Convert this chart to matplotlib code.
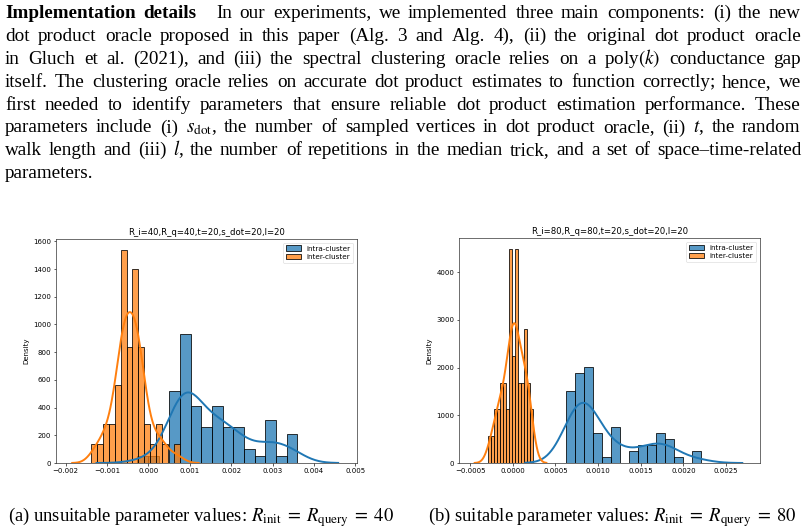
import numpy as np
import matplotlib
matplotlib.use("Agg")
import matplotlib.pyplot as plt
import seaborn as sns
from matplotlib.patches import Patch
from matplotlib.colors import to_rgba

plt.rcParams["mathtext.fontset"] = "stix"

# ---------------- data ----------------
# panel (a): R_i = R_q = 40
a_title = "R_i=40,R_q=40,t=20,s_dot=20,l=20"
a_intra_start = -0.000266
a_intra_width = 0.0002577
a_intra_counts = [1, 1, 0, 10, 18, 8, 5, 8, 5, 5, 2, 1, 6, 1, 4]
a_inter_start = -0.001384
a_inter_width = 0.0001429
a_inter_counts = [1, 1, 2, 2, 4, 11, 6, 10, 6, 2, 1, 2, 1, 0, 1]
a_xticks = [-0.002, -0.001, 0.000, 0.001, 0.002, 0.003, 0.004, 0.005]
a_yticks = [0, 200, 400, 600, 800, 1000, 1200, 1400, 1600]

# panel (b): R_i = R_q = 80
b_title = "R_i=80,R_q=80,t=20,s_dot=20,l=20"
b_intra_start = 0.000628
b_intra_width = 0.0001055
b_intra_counts = [12, 15, 16, 5, 1, 6, 0, 2, 3, 3, 5, 4, 1, 0, 2]
b_inter_start = -0.000293
b_inter_width = 0.0000356
b_inter_counts = [1, 1, 2, 2, 3, 3, 2, 8, 4, 8, 3, 3, 5, 3, 2]
b_xticks = [-0.0005, 0.0, 0.0005, 0.0010, 0.0015, 0.0020, 0.0025]
b_yticks = [0, 1000, 2000, 3000, 4000]

series_labels = ["intra-cluster", "inter-cluster"]
series_colors = ["#1f77b4", "#ff7f0e"]

body_lines = [
    "Implementation details In our experiments, we implemented three main components: (i) the new",
    "dot product oracle proposed in this paper (Alg. 3 and Alg. 4), (ii) the original dot product oracle",
    r"in Gluch et al. (2021), and (iii) the spectral clustering oracle relies on a poly$(k)$ conductance gap",
    "itself. The clustering oracle relies on accurate dot product estimates to function correctly; hence, we",
    "first needed to identify parameters that ensure reliable dot product estimation performance. These",
    r"parameters include (i) $s_{\mathrm{dot}}$, the number of sampled vertices in dot product oracle, (ii) $t$, the random",
    r"walk length and (iii) $l$, the number of repetitions in the median trick, and a set of space–time-related",
    "parameters.",
]
caption_a = r"(a) unsuitable parameter values: $R_{\mathrm{init}}\;=\;R_{\mathrm{query}}\;=\;40$"
caption_b = r"(b) suitable parameter values: $R_{\mathrm{init}}\;=\;R_{\mathrm{query}}\;=\;80$"

# ---------------- figure ----------------
W, H = 806, 532
fig = plt.figure(figsize=(W / 100, H / 100), dpi=100)
fig.patch.set_facecolor("white")
renderer = fig.canvas.get_renderer()

SERIF = "Liberation Serif"
BODY_FS = 13.8
CAP_FS = 13.4


def place_line(text, y_base, x0, x1, fs, justify, bold_n=0, extra_after=None, extra=0.0):
    tokens = text.split(" ")
    objs = []
    for i, tok in enumerate(tokens):
        t = fig.text(0, 1 - y_base / H, tok, fontsize=fs, family=SERIF,
                     weight="bold" if i < bold_n else "normal",
                     ha="left", va="baseline")
        objs.append(t)
    widths = [t.get_window_extent(renderer).width for t in objs]
    n = len(objs)
    if justify and n > 1:
        gap = ((x1 - x0) - sum(widths) - extra) / (n - 1)
    else:
        gap = fs * 100 / 72 * 0.25
    x = x0
    for i, t in enumerate(objs):
        t.set_x(round(x) / W)
        x += widths[i] + gap + (extra if i == extra_after else 0.0)


for k, line in enumerate(body_lines):
    yb = 18.0 + 22.9 * k
    last = k == len(body_lines) - 1
    if k == 0:
        place_line(line, yb, 5, 801, BODY_FS, True, bold_n=2, extra_after=1, extra=12)
    else:
        place_line(line, yb, 5, 801, BODY_FS, not last)

fig.text(8 / W, 1 - 521 / H, caption_a, fontsize=CAP_FS, family=SERIF, ha="left", va="baseline")
fig.text(428 / W, 1 - 521 / H, caption_b, fontsize=CAP_FS, family=SERIF, ha="left", va="baseline")


def edges_of(start, width, counts):
    return start + width * np.arange(len(counts) + 1)


def samples_of(start, width, counts):
    centers = start + width * (np.arange(len(counts)) + 0.5)
    return np.repeat(centers, counts)


def panel(ax, title, series, xticks, yticks, xlim):
    for (start, width, counts), lab, col in zip(series, series_labels, series_colors):
        sns.histplot(x=samples_of(start, width, counts),
                     bins=edges_of(start, width, counts),
                     stat="density", kde=True, kde_kws={"cut": 3},
                     color=col, alpha=0.75,
                     edgecolor="black", linewidth=0.55,
                     line_kws={"lw": 1.4}, ax=ax)
    ax.set_xlim(*xlim)
    ax.set_xticks(xticks)
    ax.set_yticks(yticks)
    ax.set_title(title, fontsize=6.1, pad=3.2)
    ax.set_ylabel("Density", fontsize=5.0, labelpad=2.5)
    ax.set_xlabel("")
    ax.tick_params(labelsize=5.0, length=1.8, width=0.45, pad=1.6)
    for s in ax.spines.values():
        s.set_linewidth(0.5)
        s.set_color("#333333")
    handles = [Patch(facecolor=to_rgba(c, 0.75), edgecolor="black", linewidth=0.55)
               for c in series_colors]
    leg = ax.legend(handles, series_labels, loc="upper right", fontsize=5.2,
                    handlelength=2.0, handleheight=0.7, borderpad=0.4,
                    labelspacing=0.35, handletextpad=0.8, borderaxespad=0.5,
                    framealpha=0.8)
    leg.get_frame().set_linewidth(0.4)


ax1 = fig.add_axes([56 / W, 1 - 463 / H, (357 - 56) / W, (463 - 239) / H])
panel(ax1, a_title,
      [(a_intra_start, a_intra_width, a_intra_counts),
       (a_inter_start, a_inter_width, a_inter_counts)],
      a_xticks, a_yticks, (-0.00223, 0.00504))

ax2 = fig.add_axes([459 / W, 1 - 463 / H, (760 - 459) / W, (463 - 238) / H])
panel(ax2, b_title,
      [(b_intra_start, b_intra_width, b_intra_counts),
       (b_inter_start, b_inter_width, b_inter_counts)],
      b_xticks, b_yticks, (-0.000630, 0.002899))

fig.savefig("out.png", dpi=100, facecolor="white")
